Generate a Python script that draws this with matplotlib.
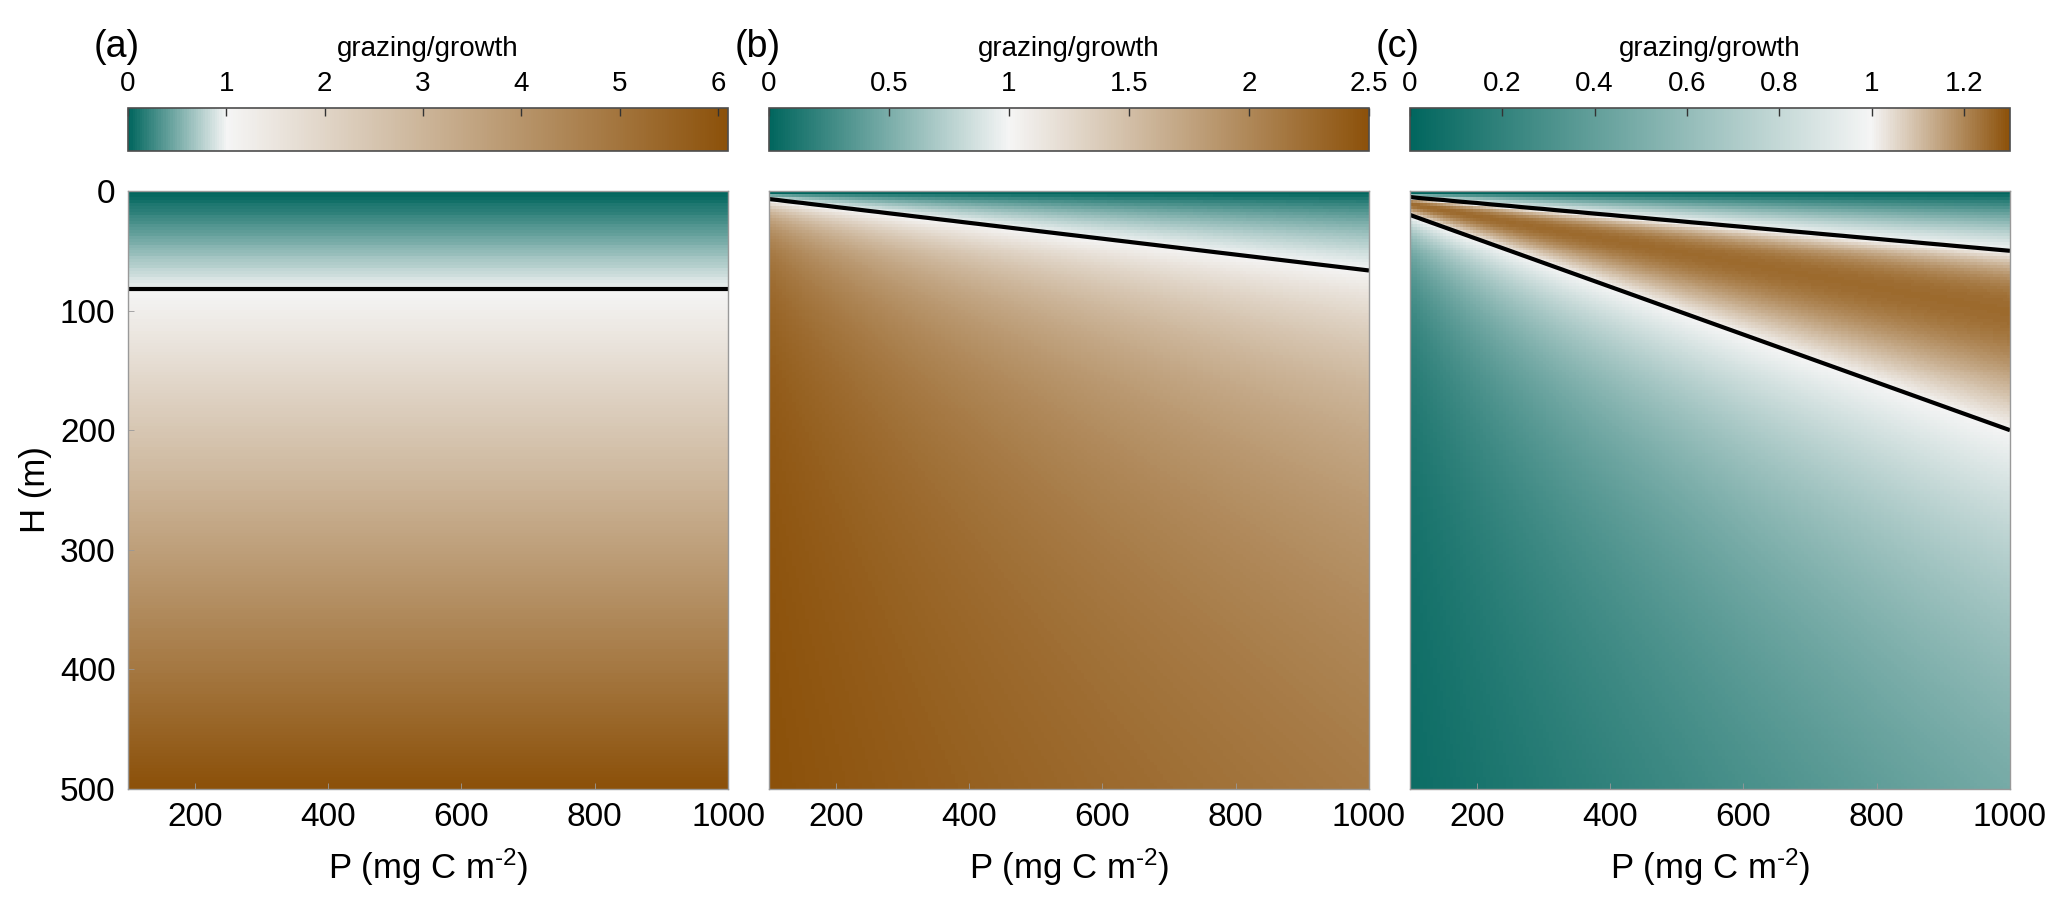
import numpy as np
import matplotlib
matplotlib.use("Agg")
import matplotlib.pyplot as plt
from matplotlib.colors import LinearSegmentedColormap, Normalize
from matplotlib.ticker import FuncFormatter

plt.rcParams['font.family'] = ['Liberation Sans', 'DejaVu Sans']
plt.rcParams['mathtext.fontset'] = 'custom'
plt.rcParams['mathtext.rm'] = 'Liberation Sans'
plt.rcParams['mathtext.default'] = 'regular'

# grid of productivity P (mg C m-2) and depth H (m)
P = np.linspace(100, 1000, 181)
H = np.linspace(0, 500, 201)

# (a) ratio grows with depth only, equals 1 at h_crit_a
h_crit_a = 82.0
# (b) saturating in H/P
gmax_b = 2.55
khalf_b = 0.103
# (c) hump in H/P, crosses 1 at H/P = 0.05 and 0.2
peak_c = 1.25
xpeak_c = 0.1

vmax = [6.1, 2.5, 1.3]
cbar_ticks = [[0, 1, 2, 3, 4, 5, 6],
              [0, 0.5, 1, 1.5, 2, 2.5],
              [0, 0.2, 0.4, 0.6, 0.8, 1, 1.2]]
panel_labels = ['(a)', '(b)', '(c)']
x_ticks = [200, 400, 600, 800, 1000]
y_ticks = [0, 100, 200, 300, 400, 500]

teal = '#01665e'
mid = '#f5f5f5'
brown = '#8c510a'

PP, HH = np.meshgrid(P, H)
xr = HH / PP
ratio_a = HH / h_crit_a
ratio_b = gmax_b * xr / (khalf_b + xr)
u = xr / xpeak_c
ratio_c = 2 * peak_c * u / (1 + u ** 2)
fields = [ratio_a, ratio_b, ratio_c]

fig = plt.figure(figsize=(20.68, 9.17), dpi=100)
W, Hf = 2068.0, 917.0
lefts = [128, 769, 1410]
ax_w = 600

fmt = FuncFormatter(lambda v, pos: '%g' % v)

for i in range(3):
    l = lefts[i] / W
    ax = fig.add_axes([l, 1 - 789 / Hf, ax_w / W, 598 / Hf])
    cax = fig.add_axes([l, 1 - 151 / Hf, ax_w / W, 43 / Hf])

    cmap = LinearSegmentedColormap.from_list(
        'gg%d' % i, [(0, teal), (1 / vmax[i], mid), (1, brown)])
    norm = Normalize(vmin=0, vmax=vmax[i])
    im = ax.imshow(fields[i], cmap=cmap, norm=norm, origin='upper',
                   extent=[P[0], P[-1], H[-1], H[0]], aspect='auto',
                   interpolation='nearest')
    ax.contour(P, H, fields[i], levels=[1], colors='k', linewidths=3)
    ax.set_xlim(100, 1000)
    ax.set_ylim(500, 0)
    ax.set_xticks(x_ticks)
    ax.set_yticks(y_ticks)
    ax.tick_params(direction='in', length=4, width=0.6, color='0.6',
                   labelsize=24, pad=9)
    for s in ax.spines.values():
        s.set_color('0.6')
        s.set_linewidth(1)
    ax.set_xlabel(r'P (mg C m$^{\text{-}2}$)', fontsize=25, labelpad=10)
    if i == 0:
        ax.set_ylabel('H (m)', fontsize=25, labelpad=6)
    else:
        ax.set_yticklabels([])
        ax.tick_params(axis='y', length=0)

    cb = fig.colorbar(im, cax=cax, orientation='horizontal')
    cb.set_ticks(cbar_ticks[i])
    cb.ax.xaxis.set_major_formatter(fmt)
    cax.xaxis.set_ticks_position('top')
    cax.xaxis.set_label_position('top')
    cax.tick_params(direction='in', length=6, width=1, color='0.2',
                    labelsize=20, pad=8)
    cb.outline.set_edgecolor('0.3')
    cb.outline.set_linewidth(1.2)
    cax.set_xlabel('grazing/growth', fontsize=20, labelpad=11)

    fig.text((lefts[i] - 34) / W, 1 - 47 / Hf, panel_labels[i],
             fontsize=27, ha='left', va='center')

fig.savefig('out.png', dpi=100)
